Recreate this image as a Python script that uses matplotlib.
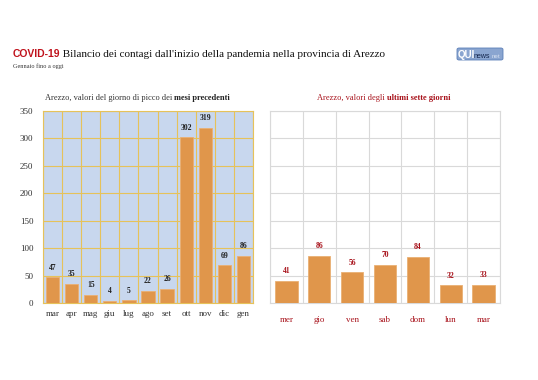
import matplotlib
matplotlib.use("Agg")
import matplotlib.pyplot as plt
from matplotlib.patches import FancyBboxPatch
import numpy as np

months = ["mar", "apr", "mag", "giu", "lug", "ago", "set", "ott", "nov", "dic", "gen"]
month_values = [47, 35, 15, 4, 5, 22, 26, 302, 319, 69, 86]
days = ["mer", "gio", "ven", "sab", "dom", "lun", "mar"]
day_values = [41, 86, 56, 70, 84, 32, 33]
y_ticks = [0, 50, 100, 150, 200, 250, 300, 350]

SERIF = ["Liberation Serif", "DejaVu Serif"]
SANS = ["Liberation Sans", "DejaVu Sans"]
ORANGE = "#e0964b"
EDGE = "#eab073"
GOLD = "#e6c25a"
BLUE = "#c8d7ee"
DARKRED = "#a8121b"

W, H = 538, 380
fig = plt.figure(figsize=(W / 100, H / 100), dpi=100)
fig.patch.set_facecolor("white")

def fx(px):
    return px / W

def fy(py):
    return 1 - py / H

# Left axes
axL = fig.add_axes([fx(43), fy(303), fx(253) - fx(43), fy(111) - fy(303)])
axL.set_facecolor(BLUE)
xl = np.arange(len(months))
axL.bar(xl, month_values, width=0.7, color=ORANGE, edgecolor=EDGE, linewidth=0.6, zorder=3)
axL.set_xlim(-0.5, len(months) - 0.5)
axL.set_ylim(0, 350)
axL.set_yticks(y_ticks)
axL.set_yticklabels([str(v) for v in y_ticks], family=SERIF, fontsize=6.5, color="#333333")
axL.set_xticks(xl)
axL.set_xticklabels(months, family=SERIF, fontsize=6.5, color="#333333")
axL.set_xticks(np.arange(len(months) + 1) - 0.5, minor=True)
axL.tick_params(axis="both", which="both", length=0)
axL.tick_params(axis="y", pad=7)
axL.tick_params(axis="x", pad=5)
axL.grid(True, axis="y", which="major", color=GOLD, linewidth=0.8, zorder=1)
axL.grid(True, axis="x", which="minor", color=GOLD, linewidth=0.8, zorder=1)
axL.grid(False, axis="x", which="major")
axL.set_axisbelow(True)
for s in axL.spines.values():
    s.set_color(GOLD)
    s.set_linewidth(0.8)
for x, v in zip(xl, month_values):
    axL.annotate(str(v), (x, v), xytext=(0, 4), textcoords="offset points",
                 ha="center", va="bottom", family=SERIF, fontsize=5.5,
                 fontweight="bold", color="#222222", zorder=4)

# Right axes
axR = fig.add_axes([fx(270), fy(303), fx(500) - fx(270), fy(111) - fy(303)])
axR.set_facecolor("white")
xr = np.arange(len(days))
axR.bar(xr, day_values, width=0.68, color=ORANGE, edgecolor=EDGE, linewidth=0.6, zorder=3)
axR.set_xlim(-0.5, len(days) - 0.5)
axR.set_ylim(0, 350)
axR.set_yticks(y_ticks)
axR.set_yticklabels([])
axR.set_xticks(xr)
axR.set_xticklabels(days, family=SERIF, fontsize=6.5, color=DARKRED)
axR.set_xticks(np.arange(len(days) + 1) - 0.5, minor=True)
axR.tick_params(axis="both", which="both", length=0)
axR.tick_params(axis="x", pad=9)
axR.grid(True, axis="y", which="major", color="#d9d9d9", linewidth=0.8, zorder=1)
axR.grid(True, axis="x", which="minor", color="#d9d9d9", linewidth=0.8, zorder=1)
axR.grid(False, axis="x", which="major")
axR.set_axisbelow(True)
for s in axR.spines.values():
    s.set_color("#d9d9d9")
    s.set_linewidth(0.8)
for x, v in zip(xr, day_values):
    axR.annotate(str(v), (x, v), xytext=(0, 4), textcoords="offset points",
                 ha="center", va="bottom", family=SERIF, fontsize=5.5,
                 fontweight="bold", color=DARKRED, zorder=4)

# Titles
t1 = fig.text(fx(13), fy(57), "COVID-19", family=SANS, fontsize=7.5, fontweight="bold",
              color="#c0121c", ha="left", va="baseline")
axL.annotate(" Bilancio dei contagi dall'inizio della pandemia nella provincia di Arezzo",
             xy=(1, 0), xycoords=t1, ha="left", va="bottom", family=SERIF,
             fontsize=8, color="#111111", annotation_clip=False)
fig.text(fx(13), fy(68), "Gennaio fino a oggi", family=SERIF, fontsize=4.5,
         color="#333333", ha="left", va="baseline")

# Panel subtitles
s1 = fig.text(fx(45), fy(100), "Arezzo, valori del giorno di picco dei ", family=SERIF,
              fontsize=6, color="#333333", ha="left", va="baseline")
axL.annotate("mesi precedenti", xy=(1, 0), xycoords=s1, ha="left", va="bottom",
             family=SERIF, fontsize=6, fontweight="bold", color="#222222",
             annotation_clip=False)
s2 = fig.text(fx(317), fy(100), "Arezzo, valori degli ", family=SERIF,
              fontsize=6, color=DARKRED, ha="left", va="baseline")
axL.annotate("ultimi sette giorni", xy=(1, 0), xycoords=s2, ha="left", va="bottom",
             family=SERIF, fontsize=6, fontweight="bold", color=DARKRED,
             annotation_clip=False)

# Logo
logo = FancyBboxPatch((fx(457), fy(60)), fx(503) - fx(457), fy(48) - fy(60),
                      boxstyle="round,pad=0.0,rounding_size=0.004",
                      transform=fig.transFigure, facecolor="#8aa5d0",
                      edgecolor="#5c7fb8", linewidth=0.6, zorder=-1)
fig.add_artist(logo)
fig.text(fx(458), fy(57.5), "QUI", family=SANS, fontsize=7, fontweight="bold",
         color="white", ha="left", va="baseline")
fig.text(fx(474), fy(57.5), "news", family=SANS, fontsize=5, color="#14264d",
         ha="left", va="baseline")
fig.text(fx(492), fy(57.5), "net", family=SANS, fontsize=4.5, color="#d6e0f0",
         ha="left", va="baseline")

fig.savefig("out.png", dpi=100, facecolor="white")
